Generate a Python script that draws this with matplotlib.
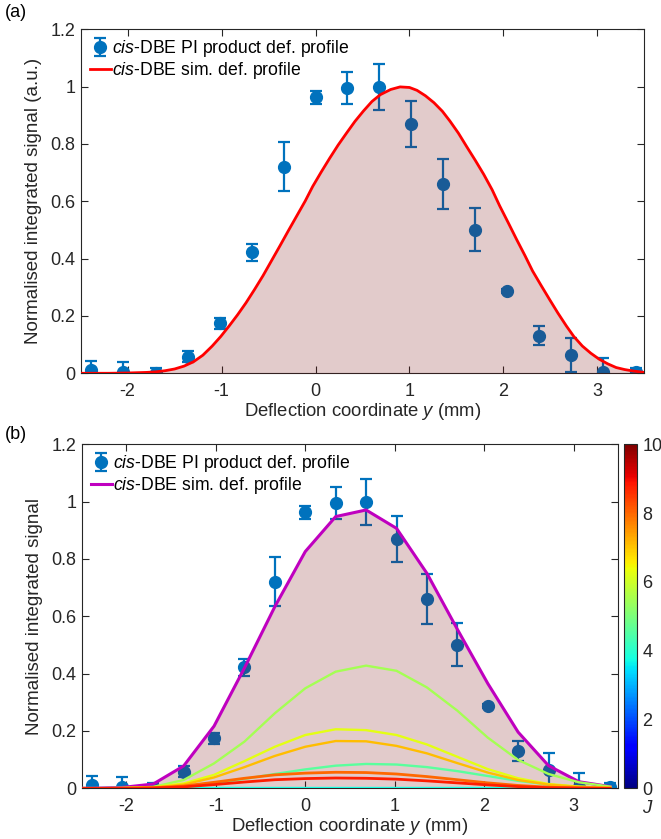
import numpy as np
import matplotlib
matplotlib.use("Agg")
import matplotlib.pyplot as plt
from matplotlib import cm, colors

plt.rcParams['font.family'] = ['Liberation Sans', 'DejaVu Sans']
plt.rcParams['mathtext.fontset'] = 'custom'
plt.rcParams['mathtext.rm'] = 'Liberation Sans'
plt.rcParams['mathtext.it'] = 'Liberation Sans:italic'

# --- measured deflection profile (same in both panels)
y_pos = [-2.39, -2.05, -1.70, -1.36, -1.02, -0.68, -0.34, 0.0, 0.34, 0.68,
         1.02, 1.36, 1.70, 2.04, 2.38, 2.72, 3.06, 3.41]
signal = [0.012, 0.004, 0.002, 0.058, 0.174, 0.422, 0.721, 0.963, 0.994, 1.0,
          0.869, 0.660, 0.500, 0.287, 0.131, 0.064, 0.004, 0.006]
signal_err = [0.032, 0.034, 0.016, 0.02, 0.018, 0.03, 0.086, 0.022, 0.056, 0.08,
              0.08, 0.088, 0.075, 0.008, 0.034, 0.06, 0.05, 0.014]

# --- panel (a) simulated profile
sim_a_x = [-2.5, -2.2, -2.0, -1.8, -1.7, -1.6, -1.5, -1.4, -1.3, -1.2, -1.1, -1.01,
           -0.92, -0.83, -0.74, -0.65, -0.56, -0.47, -0.38, -0.29, -0.2, -0.11, -0.03,
           0.06, 0.15, 0.24, 0.33, 0.42, 0.51, 0.6, 0.69, 0.8, 0.9, 1.0, 1.08, 1.17,
           1.26, 1.35, 1.43, 1.52, 1.61, 1.7, 1.79, 1.88, 1.96, 2.05, 2.14, 2.23, 2.31,
           2.4, 2.49, 2.58, 2.67, 2.75, 2.84, 2.93, 3.02, 3.11, 3.2, 3.29, 3.38, 3.5]
sim_a_y = [0.0, 0.0, 0.001, 0.003, 0.005, 0.009, 0.015, 0.025, 0.04, 0.063, 0.095, 0.128,
           0.165, 0.204, 0.246, 0.292, 0.34, 0.392, 0.444, 0.497, 0.549, 0.601, 0.652,
           0.702, 0.75, 0.796, 0.838, 0.879, 0.915, 0.948, 0.972, 0.99, 0.999, 0.997, 0.987,
           0.968, 0.944, 0.914, 0.88, 0.838, 0.79, 0.743, 0.694, 0.64, 0.584, 0.526, 0.467,
           0.41, 0.357, 0.307, 0.258, 0.21, 0.165, 0.128, 0.095, 0.07, 0.049, 0.033, 0.02,
           0.013, 0.008, 0.003]

# --- panel (b) simulated profile, total and per-J contributions
sim_b_x = [-2.73] + y_pos
sim_total = [0, 0, 0.003, 0.015, 0.078, 0.217, 0.42, 0.634, 0.826, 0.948, 0.971,
             0.907, 0.75, 0.555, 0.366, 0.196, 0.079, 0.023, 0.006]
j_values = [3.75, 4.6, 5.5, 6.25, 7.1, 8.0, 8.75]
j_curves = [
    [0.001] * 19,
    [0, 0, 0, 0.001, 0.006, 0.017, 0.033, 0.05, 0.066, 0.079, 0.085, 0.083, 0.074,
     0.06, 0.043, 0.026, 0.013, 0.005, 0.002],
    [0, 0, 0.001, 0.005, 0.029, 0.087, 0.163, 0.262, 0.349, 0.407, 0.428, 0.41,
     0.352, 0.271, 0.177, 0.099, 0.05, 0.021, 0.006],
    [0, 0, 0.001, 0.004, 0.017, 0.047, 0.095, 0.145, 0.186, 0.206, 0.203, 0.186,
     0.153, 0.11, 0.067, 0.035, 0.015, 0.006, 0.002],
    [0, 0, 0.001, 0.003, 0.013, 0.038, 0.074, 0.113, 0.145, 0.165, 0.164, 0.148,
     0.122, 0.088, 0.055, 0.029, 0.013, 0.005, 0.002],
    [0, 0, 0, 0.002, 0.008, 0.021, 0.035, 0.047, 0.053, 0.056, 0.055, 0.05, 0.041,
     0.03, 0.019, 0.01, 0.004, 0.001, 0],
    [0, 0, 0, 0.001, 0.005, 0.013, 0.022, 0.03, 0.034, 0.036, 0.035, 0.032, 0.026,
     0.019, 0.012, 0.006, 0.002, 0.001, 0],
]

BLUE = (0, 0.447, 0.741)
AXC = (0.15, 0.15, 0.15)
FILL = (0.47, 0.04, 0.04)
FS = 13


def style_axes(ax, ylabel):
    ax.set_xlim(-2.5, 3.5)
    ax.set_ylim(0, 1.2)
    ax.set_xticks([-2, -1, 0, 1, 2, 3])
    ax.set_xticklabels(['-2', '-1', '0', '1', '2', '3'])
    ax.set_yticks([0, 0.2, 0.4, 0.6, 0.8, 1, 1.2])
    ax.set_yticklabels(['0', '0.2', '0.4', '0.6', '0.8', '1', '1.2'])
    ax.tick_params(direction='in', top=True, right=True, length=5, width=0.8,
                   colors=AXC, labelsize=FS)
    ax.tick_params(axis='x', pad=7)
    ax.tick_params(axis='y', pad=4)
    for s in ax.spines.values():
        s.set_color(AXC)
        s.set_linewidth(0.8)
    ax.set_xlabel(r'Deflection coordinate $\it{y}$ (mm)', fontsize=FS + 0.3, color=AXC, labelpad=0.5)
    ax.set_ylabel(ylabel, fontsize=FS + 0.5, color=AXC, labelpad=6)


def draw_points(ax):
    h = ax.errorbar(y_pos, signal, yerr=signal_err, fmt='o', color=BLUE, ms=8.5,
                    elinewidth=1.6, capsize=4.5, capthick=1.6, zorder=2,
                    label=r'$\it{cis}$-DBE PI product def. profile')
    return h


def add_legend(ax, handles):
    ax.legend(handles=handles, loc='upper left', frameon=False, fontsize=FS - 0.3,
              handlelength=1.2, handletextpad=0.05, borderaxespad=0.3, labelspacing=0.05,
              borderpad=0.2)


fig = plt.figure(figsize=(6.61, 8.39), dpi=100)

# ---------------- (a)
ax1 = fig.add_axes([0.1221, 0.5551, 0.8527, 0.4100])
h1 = draw_points(ax1)
ax1.fill_between(sim_a_x, sim_a_y, 0, color=FILL, alpha=0.21, lw=0, zorder=3)
h2, = ax1.plot(sim_a_x, sim_a_y, color='red', lw=2.0, zorder=4,
               label=r'$\it{cis}$-DBE sim. def. profile')
style_axes(ax1, 'Normalised integrated signal (a.u.)')
add_legend(ax1, [h1, h2])
fig.text(0.008, 0.985, '(a)', fontsize=FS, color='black', va='center', ha='left')

# ---------------- (b)
ax2 = fig.add_axes([0.1236, 0.0604, 0.8118, 0.4100])
h3 = draw_points(ax2)
ax2.fill_between(sim_b_x, sim_total, 0, color=FILL, alpha=0.21, lw=0, zorder=3)
h4, = ax2.plot(sim_b_x, sim_total, color=(0.75, 0, 0.75), lw=2.2, zorder=4,
               label=r'$\it{cis}$-DBE sim. def. profile')
norm = colors.Normalize(0, 10)
cmap = plt.get_cmap('jet')
for jv, curve in zip(j_values, j_curves):
    lw = 2.4 if jv < 4 else (2.0 if jv > 7.5 else 1.7)
    ax2.plot(sim_b_x, curve, color=cmap(norm(jv)), lw=lw, zorder=5)
style_axes(ax2, 'Normalised integrated signal')
add_legend(ax2, [h3, h4])
fig.text(0.008, 0.482, '(b)', fontsize=FS, color='black', va='center', ha='left')

cax = fig.add_axes([0.9445, 0.0604, 0.0188, 0.4100])
cb = fig.colorbar(cm.ScalarMappable(norm=norm, cmap=cmap), cax=cax)
cb.set_ticks([0, 2, 4, 6, 8, 10])
cb.ax.tick_params(length=0, labelsize=FS, colors=AXC, pad=4)
cb.outline.set_edgecolor(AXC)
cb.outline.set_linewidth(0.8)
cax.text(1.9, -0.035, r'$\it{J}$', transform=cax.transAxes, fontsize=FS + 0.5,
         color=AXC, ha='center', va='top')

fig.savefig('out.png', dpi=100)
